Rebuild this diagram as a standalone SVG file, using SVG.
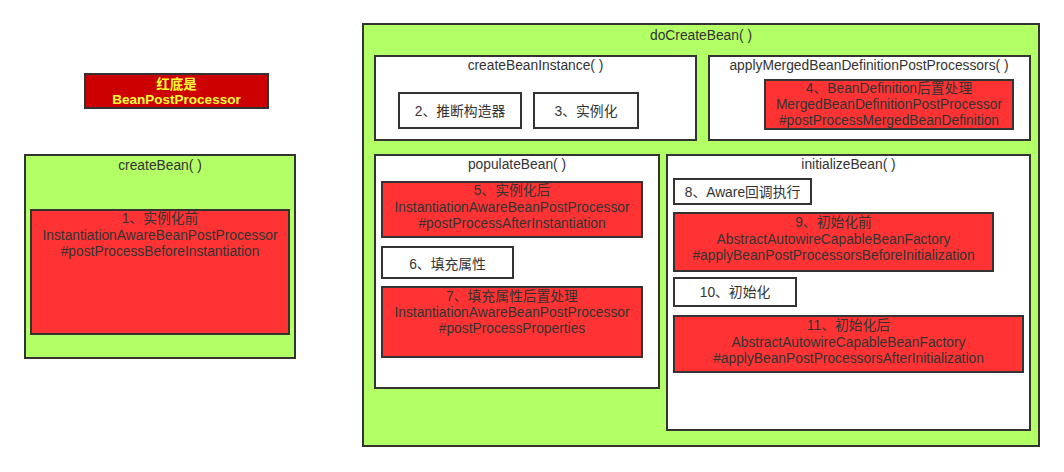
<svg xmlns="http://www.w3.org/2000/svg" width="1064" height="472" viewBox="0 0 1064 472">
<style>
text{font-family:"Liberation Sans","Noto Sans CJK SC",sans-serif;font-size:13.8px;fill:#333;text-anchor:middle;dominant-baseline:central}
.g{fill:#b3ff66;stroke:#333;stroke-width:2}
.w{fill:#fff;stroke:#333;stroke-width:2}
.r{fill:#ff3333;stroke:#333;stroke-width:2}
.leg{fill:#cc0000;stroke:#333;stroke-width:2}
.lt{fill:#ffff33;font-weight:bold;font-size:13.5px}
</style>
<rect width="1064" height="472" fill="#fff"/>
<g id="legend">
<rect class="leg" x="85" y="74" width="183" height="34"/>
<text class="lt" x="176.5" y="84">红底是</text>
<text class="lt" x="176.5" y="99">BeanPostProcessor</text>
</g>
<g id="createBean">
<rect class="g" x="25" y="155" width="270" height="203"/>
<text x="160" y="165">createBean( )</text>
</g>
<g id="step1">
<rect class="r" x="31" y="210" width="258" height="124"/>
<text x="160" y="218">1、实例化前</text>
<text x="160" y="235">InstantiationAwareBeanPostProcessor</text>
<text x="160" y="251">#postProcessBeforeInstantiation</text>
</g>
<g id="doCreateBean">
<rect class="g" x="363" y="24" width="676" height="422"/>
<text x="701" y="35">doCreateBean( )</text>
</g>
<g id="createBeanInstance">
<rect class="w" x="375" y="56" width="321" height="84"/>
<text x="535.5" y="65">createBeanInstance( )</text>
</g>
<g id="step2">
<rect class="w" x="399" y="93" width="122" height="35"/>
<text x="460" y="111">2、推断构造器</text>
</g>
<g id="step3">
<rect class="w" x="534" y="93" width="104" height="35"/>
<text x="586" y="111">3、实例化</text>
</g>
<g id="applyMerged">
<rect class="w" x="709" y="56" width="321" height="84"/>
<text x="869" y="65">applyMergedBeanDefinitionPostProcessors( )</text>
</g>
<g id="step4">
<rect class="r" x="765" y="80" width="248" height="49"/>
<text x="889" y="88">4、BeanDefinition后置处理</text>
<text x="889" y="104">MergedBeanDefinitionPostProcessor</text>
<text x="889" y="120">#postProcessMergedBeanDefinition</text>
</g>
<g id="populateBean">
<rect class="w" x="375" y="155" width="284" height="233"/>
<text x="517" y="164">populateBean( )</text>
</g>
<g id="step5">
<rect class="r" x="382" y="182" width="260" height="55"/>
<text x="512" y="190">5、实例化后</text>
<text x="512" y="207">InstantiationAwareBeanPostProcessor</text>
<text x="512" y="223">#postProcessAfterInstantiation</text>
</g>
<g id="step6">
<rect class="w" x="382" y="247" width="131" height="31"/>
<text x="447.5" y="264">6、填充属性</text>
</g>
<g id="step7">
<rect class="r" x="382" y="287" width="260" height="70"/>
<text x="512" y="296">7、填充属性后置处理</text>
<text x="512" y="312">InstantiationAwareBeanPostProcessor</text>
<text x="512" y="328">#postProcessProperties</text>
</g>
<g id="initializeBean">
<rect class="w" x="667" y="155" width="363" height="275"/>
<text x="848.5" y="164">initializeBean( )</text>
</g>
<g id="step8">
<rect class="w" x="674" y="179" width="137" height="25"/>
<text x="742.5" y="192">8、Aware回调执行</text>
</g>
<g id="step9">
<rect class="r" x="674" y="213" width="319" height="58"/>
<text x="833.5" y="222">9、初始化前</text>
<text x="833.5" y="239">AbstractAutowireCapableBeanFactory</text>
<text x="833.5" y="255">#applyBeanPostProcessorsBeforeInitialization</text>
</g>
<g id="step10">
<rect class="w" x="674" y="278" width="122" height="28"/>
<text x="735" y="292">10、初始化</text>
</g>
<g id="step11">
<rect class="r" x="674" y="316" width="349" height="56"/>
<text x="848.5" y="325">11、初始化后</text>
<text x="848.5" y="342">AbstractAutowireCapableBeanFactory</text>
<text x="848.5" y="358">#applyBeanPostProcessorsAfterInitialization</text>
</g>
<g id="connectors"/>
</svg>
